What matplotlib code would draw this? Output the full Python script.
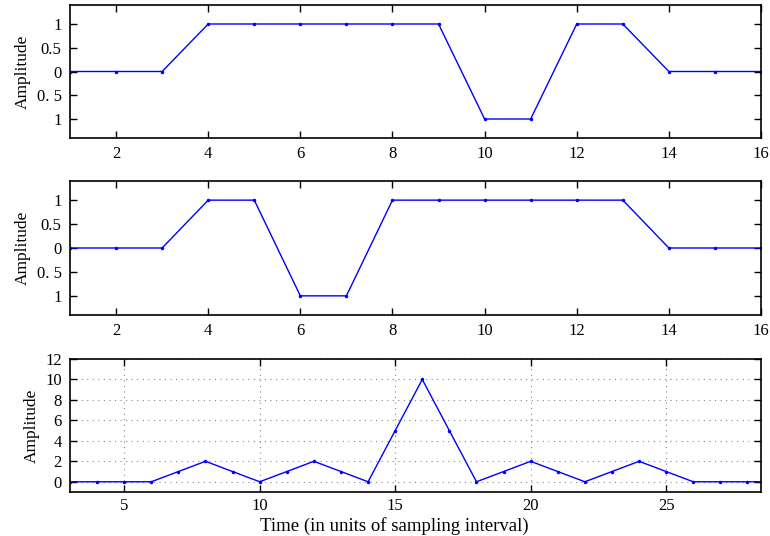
import matplotlib
matplotlib.use("Agg")
import matplotlib.pyplot as plt

plt.rcParams["font.family"] = ["Liberation Serif", "DejaVu Serif"]
plt.rcParams["font.size"] = 12

# first code sequence
t_top = list(range(1, 17))
amp_top = [0, 0, 0, 1, 1, 1, 1, 1, 1, -1, -1, 1, 1, 0, 0, 0]

# second code sequence
t_mid = list(range(1, 17))
amp_mid = [0, 0, 0, 1, 1, -1, -1, 1, 1, 1, 1, 1, 1, 0, 0, 0]

# correlation output
t_bot = list(range(3, 30))
amp_bot = [0, 0, 0, 0, 1, 2, 1, 0, 1, 2, 1, 0, 5, 10, 5, 0,
           1, 2, 1, 0, 1, 2, 1, 0, 0, 0, 0]

code_yticks = [-1, -0.5, 0, 0.5, 1]
code_yticklabels = ["1", "0. 5", "0", "0.5", "1"]
code_xticks = [2, 4, 6, 8, 10, 12, 14, 16]

bot_yticks = [0, 2, 4, 6, 8, 10, 12]
bot_xticks = [5, 10, 15, 20, 25]

LINE_COLOR = "#0000ff"


def style_axes(ax):
    for spine in ax.spines.values():
        spine.set_linewidth(1.2)
    ax.tick_params(direction="in", top=True, right=True, length=5, width=1,
                   labelsize=12, pad=6)


fig = plt.figure(figsize=(7.7, 5.36), dpi=100)
left, width = 70 / 770, 691 / 770

ax1 = fig.add_axes([left, 1 - 138 / 536, width, 133 / 536])
ax1.plot(t_top, amp_top, color=LINE_COLOR, lw=1, marker=".", ms=3)
ax1.set_xlim(1, 16)
ax1.set_ylim(-1.4, 1.4)
ax1.set_xticks(code_xticks)
ax1.set_yticks(code_yticks)
ax1.set_yticklabels(code_yticklabels)
ax1.set_ylabel("Amplitude", fontsize=12.5)
style_axes(ax1)

ax2 = fig.add_axes([left, 1 - 315 / 536, width, 134 / 536])
ax2.plot(t_mid, amp_mid, color=LINE_COLOR, lw=1, marker=".", ms=3)
ax2.set_xlim(1, 16)
ax2.set_ylim(-1.4, 1.4)
ax2.set_xticks(code_xticks)
ax2.set_yticks(code_yticks)
ax2.set_yticklabels(code_yticklabels)
ax2.set_ylabel("Amplitude", fontsize=12.5)
style_axes(ax2)

ax3 = fig.add_axes([left, 1 - 492 / 536, width, 133 / 536])
ax3.plot(t_bot, amp_bot, color=LINE_COLOR, lw=1, marker=".", ms=3)
ax3.set_xlim(3, 28.5)
ax3.set_ylim(-1, 12)
ax3.set_xticks(bot_xticks)
ax3.set_yticks(bot_yticks)
ax3.grid(True, linestyle=(0, (1, 4)), color="#888888", lw=0.8)
ax3.set_ylabel("Amplitude", fontsize=12.5)
ax3.set_xlabel("Time (in units of sampling interval)", fontsize=13.5)
ax3.xaxis.set_label_coords(0.47, -0.19)
style_axes(ax3)
ax3.tick_params(axis="x", pad=4)

fig.savefig("out.png", dpi=100)
